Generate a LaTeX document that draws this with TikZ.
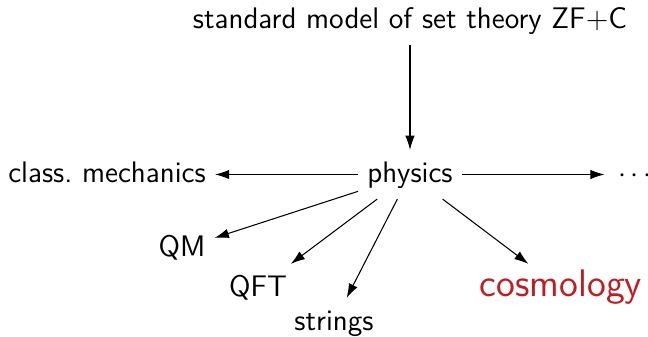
\documentclass[tikz,border=0pt]{standalone}
\usetikzlibrary{arrows.meta}
\definecolor{cosred}{RGB}{190,30,35}
\begin{document}
\begin{tikzpicture}[x=0.38pt,y=-0.38pt,
  lbl/.style={font=\sffamily\fontsize{11.3}{13}\selectfont, anchor=base, text height=2.1ex, text depth=0.6ex},
  big/.style={font=\sffamily\fontsize{14.6}{17}\selectfont, anchor=base, text=cosred, text height=2.1ex, text depth=0.6ex},
  arr/.style={-{Latex[length=5.4pt,width=3.6pt]}, line width=0.4pt}]
\useasboundingbox (0,0) rectangle (648,337);
\node[lbl] (zf) at (410,29) {standard model of set theory ZF+C};
\node[lbl] (phys) at (410,183) {physics};
\node[lbl] (cm) at (107,183) {class.\ mechanics};
\node[lbl, inner xsep=0pt] (dots) at (635,183) {$\cdots$};
\node[lbl] (qm) at (182,257) {QM};
\node[lbl] (qft) at (258,297) {QFT};
\node[lbl] (str) at (334,331) {strings};
\node[big] (cos) at (561,297) {cosmology};
\draw[arr] (zf) -- (phys);
\draw[arr] (phys) -- (cm);
\draw[arr, shorten >=5pt] (phys) -- (dots);
\draw[arr] (phys) -- (qm);
\draw[arr] (phys) -- (qft);
\draw[arr] (phys) -- (str);
\draw[arr] (phys) -- (cos);
\end{tikzpicture}
\end{document}
